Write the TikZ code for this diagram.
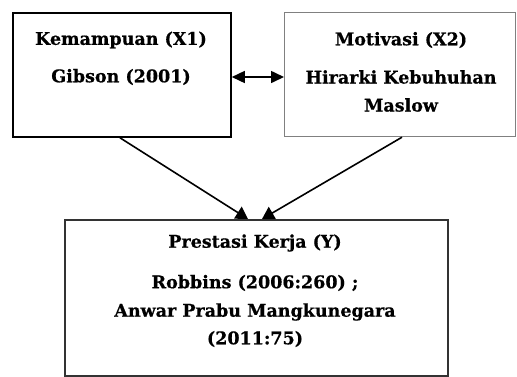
\documentclass[tikz,border=0pt]{standalone}
\usepackage{fontspec}
\setmainfont{DejaVu Serif}[BoldFeatures={FakeBold=0.6}]
\usetikzlibrary{arrows.meta,calc}
\begin{document}
\begin{tikzpicture}[x=1pt,y=-1pt,
  box/.style={draw, rectangle, inner sep=0pt, anchor=north west},
  txt/.style={font=\bfseries\fontsize{17.5}{20}\selectfont, inner sep=0pt, anchor=center},
  conn/.style={line width=1.6pt, -{Triangle[length=12pt,width=14pt]}},
  dconn/.style={line width=1.6pt, {Triangle[length=13pt,width=12pt]}-{Triangle[length=13pt,width=12pt]}}]
\useasboundingbox (0,0) rectangle (517,376);
\node[box, line width=1.8pt, minimum width=218pt, minimum height=124pt] (b1) at (12,12) {};
\node[box, draw=gray, line width=1.2pt, minimum width=231pt, minimum height=124pt] (b2) at (284,12) {};
\node[box, draw=black!80, line width=1.6pt, minimum width=383pt, minimum height=156pt] (b3) at (64,219) {};
\node[txt] (t1a) at (121,40) {Kemampuan (X1)};
\node[txt] (t1b) at (121,77) {Gibson (2001)};
\node[txt] (t2a) at (401,40) {Motivasi (X2)};
\node[txt] (t2b) at (401,77) {Hirarki Kebuhuhan};
\node[txt] (t2c) at (401,105) {Maslow};
\node[txt] (t3a) at (255,243) {Prestasi Kerja (Y)};
\node[txt] (t3b) at (255,283) {Robbins (2006:260) ;};
\node[txt] (t3c) at (255,312) {Anwar Prabu Mangkunegara};
\node[txt] (t3d) at (255,339) {(2011:75)};
\draw[conn] ($(b1.south west)+(108,0)$) -- ($(b3.north west)+(184,0)$);
\draw[conn] ($(b2.south west)+(118,0)$) -- ($(b3.north west)+(198,0)$);
\draw[dconn] (b1.east |- t1b) -- (b2.west |- t1b);
\end{tikzpicture}
\end{document}
